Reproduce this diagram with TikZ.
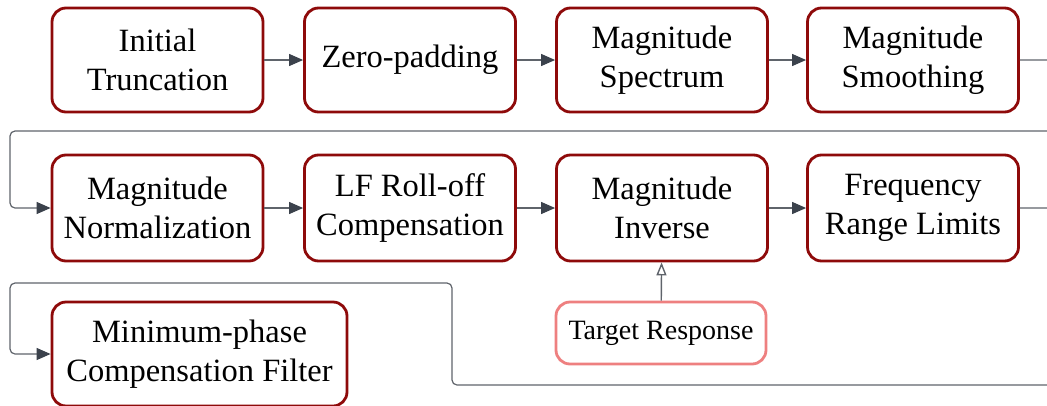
\documentclass[tikz,border=0pt]{standalone}
\usepackage{fontspec}
\setmainfont{Liberation Serif}
\usetikzlibrary{arrows.meta,calc}
\definecolor{boxred}{HTML}{8E0A0A}
\definecolor{softred}{HTML}{EE8080}
\definecolor{wire}{HTML}{5F646B}
\definecolor{tipgray}{HTML}{3B424C}
\tikzset{
  stage/.style={draw=boxred, line width=2.8pt, rounded corners=14pt, fill=white,
    minimum width=211pt, minimum height=104pt, inner sep=0pt, align=center,
    font=\fontsize{32.5}{39}\selectfont},
  target/.style={draw=softred, line width=2.8pt, rounded corners=14pt, fill=white,
    minimum width=210pt, minimum height=62pt, inner sep=0pt, align=center,
    font=\fontsize{28}{34}\selectfont},
  conn/.style={draw=wire, line width=1.2pt, rounded corners=5pt,
    -{Triangle[length=14pt,width=12pt,fill=tipgray,color=tipgray]}},
  openconn/.style={draw=wire, line width=1.4pt,
    -{Triangle[open,length=13pt,width=10pt,color=wire]}}
}
\begin{document}
\begin{tikzpicture}[x=1pt,y=1pt]
\useasboundingbox (0,0) rectangle (1047,-405);
\clip (0,0) rectangle (1047,-405);
% first row
\node[stage] (b1) at (157.5,-60) {Initial\\Truncation};
\node[stage] (b2) at (410,-60) {Zero-padding};
\node[stage] (b3) at (662,-60) {Magnitude\\Spectrum};
\node[stage] (b4) at (913,-60) {Magnitude\\Smoothing};
% second row
\node[stage, minimum height=106pt] (b5) at (157.5,-208) {Magnitude\\Normalization};
\node[stage, minimum height=106pt] (b6) at (410,-208) {LF Roll-off\\Compensation};
\node[stage, minimum height=106pt] (b7) at (662,-208) {Magnitude\\Inverse};
\node[stage, minimum height=106pt] (b8) at (913,-208) {Frequency\\Range Limits};
% third row
\node[stage, minimum width=295pt] (b9) at (199.5,-354) {Minimum-phase\\Compensation Filter};
\node[target] (tr) at (661,-333) {Target Response};
% routing points past the right edge
\coordinate (r1) at (1065,-131);
\coordinate (l1) at (10,-131);
\coordinate (r2) at (1065,-385);
\coordinate (m2) at (452,-385);
\coordinate (m3) at (452,-283);
\coordinate (l2) at (10,-283);
% connectors
\draw[conn] (b1) -- (b2);
\draw[conn] (b2) -- (b3);
\draw[conn] (b3) -- (b4);
\draw[conn] (b4.east) -| (r1) -- (l1) |- (b5.west);
\draw[conn] (b5) -- (b6);
\draw[conn] (b6) -- (b7);
\draw[conn] (b7) -- (b8);
\draw[conn] (b8.east) -| (r2) -- (m2) -- (m3) -- (l2) |- (b9.west);
\draw[openconn] (tr) -- (b7);
\end{tikzpicture}
\end{document}
